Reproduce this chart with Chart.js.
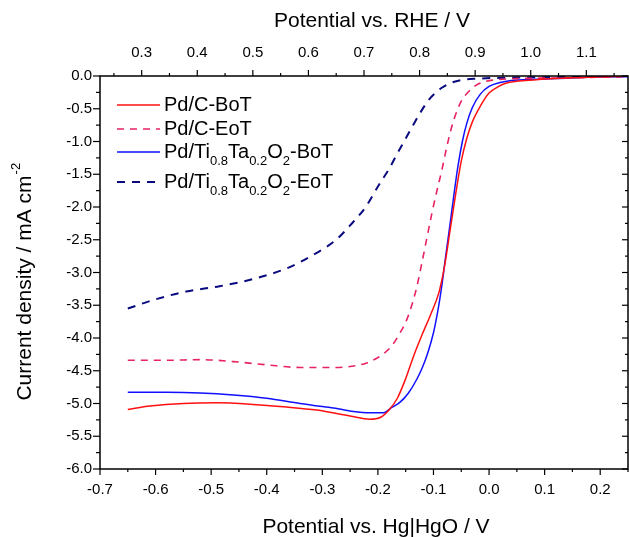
<!DOCTYPE html>
<html lang="en">
<head>
<meta charset="utf-8" />
<title>ORR polarisation curves</title>
<style>
  html, body { margin: 0; padding: 0; background: #fff; }
  #wrap { width: 629px; height: 537px; }
</style>
</head>
<body>
<div id="wrap"><canvas id="myChart" width="629" height="537"></canvas></div>
<script src="https://cdn.jsdelivr.net/npm/chart.js/dist/chart.umd.min.js"></script>
<script>
// values (potential vs Hg|HgO in V, current density in mA cm-2)
const pdcBotX = [-0.65, -0.61, -0.55, -0.49, -0.43, -0.37, -0.31, -0.25, -0.215, -0.195, -0.18, -0.165, -0.15, -0.135, -0.12, -0.105, -0.09, -0.08, -0.07, -0.06, -0.05, -0.04, -0.03, -0.015, 0.0, 0.015, 0.03, 0.05, 0.08, 0.12, 0.18, 0.25];
const pdcBotY = [-5.09, -5.04, -5.00, -4.99, -5.01, -5.05, -5.10, -5.19, -5.24, -5.21, -5.10, -4.92, -4.62, -4.26, -3.94, -3.64, -3.30, -2.90, -2.35, -1.80, -1.30, -0.95, -0.70, -0.45, -0.26, -0.17, -0.11, -0.08, -0.06, -0.04, -0.02, 0.0];

const pdcEotX = [-0.65, -0.58, -0.52, -0.46, -0.40, -0.34, -0.28, -0.22, -0.19, -0.175, -0.16, -0.148, -0.138, -0.13, -0.121, -0.112, -0.103, -0.094, -0.085, -0.076, -0.067, -0.058, -0.049, -0.037, -0.025, -0.01, 0.01, 0.05, 0.12, 0.25];
const pdcEotY = [-4.34, -4.34, -4.33, -4.36, -4.41, -4.45, -4.45, -4.38, -4.24, -4.12, -3.92, -3.72, -3.47, -3.22, -2.86, -2.48, -2.10, -1.76, -1.44, -1.08, -0.77, -0.54, -0.37, -0.24, -0.15, -0.09, -0.06, -0.04, -0.03, -0.01];

const ttoBotX = [-0.65, -0.58, -0.52, -0.46, -0.40, -0.34, -0.28, -0.22, -0.19, -0.175, -0.16, -0.145, -0.13, -0.12, -0.11, -0.10, -0.092, -0.085, -0.078, -0.07, -0.063, -0.056, -0.048, -0.04, -0.03, -0.016, 0.0, 0.02, 0.04, 0.08, 0.12, 0.18, 0.25];
const ttoBotY = [-4.83, -4.83, -4.84, -4.87, -4.92, -5.00, -5.07, -5.14, -5.14, -5.06, -4.98, -4.84, -4.63, -4.45, -4.22, -3.92, -3.58, -3.20, -2.75, -2.25, -1.80, -1.38, -1.00, -0.72, -0.48, -0.28, -0.16, -0.10, -0.07, -0.05, -0.04, -0.02, -0.01];

const ttoEotX = [-0.65, -0.604, -0.545, -0.485, -0.425, -0.365, -0.306, -0.275, -0.25, -0.222, -0.198, -0.18, -0.168, -0.153, -0.138, -0.123, -0.109, -0.097, -0.085, -0.07, -0.049, -0.02, 0.011, 0.08, 0.25];
const ttoEotY = [-3.55, -3.42, -3.29, -3.21, -3.10, -2.94, -2.68, -2.50, -2.28, -2.00, -1.66, -1.42, -1.23, -1.00, -0.77, -0.55, -0.37, -0.26, -0.18, -0.11, -0.06, -0.04, -0.03, -0.02, 0.0];

const xTicks = [-0.7, -0.6, -0.5, -0.4, -0.3, -0.2, -0.1, 0.0, 0.1, 0.2];
const rheTicks = [0.3, 0.4, 0.5, 0.6, 0.7, 0.8, 0.9, 1.0, 1.1];
const yTicks = [0.0, -0.5, -1.0, -1.5, -2.0, -2.5, -3.0, -3.5, -4.0, -4.5, -5.0, -5.5, -6.0];
const rheOffset = 0.925; // E(RHE) - E(Hg|HgO)

// legend labels, [text, isSubscript]
const legendParts = [
  [["Pd/C-BoT", 0]],
  [["Pd/C-EoT", 0]],
  [["Pd/Ti", 0], ["0.8", 1], ["Ta", 0], ["0.2", 1], ["O", 0], ["2", 1], ["-BoT", 0]],
  [["Pd/Ti", 0], ["0.8", 1], ["Ta", 0], ["0.2", 1], ["O", 0], ["2", 1], ["-EoT", 0]]
];

const FONT = "'Liberation Sans', Arial, sans-serif";

function toPoints(xs, ys) {
  return xs.map((x, i) => ({ x: x, y: ys[i] }));
}

const series = [
  { label: "Pd/C-BoT", data: toPoints(pdcBotX, pdcBotY), color: "#ff1010", dash: [], width: 1.5 },
  { label: "Pd/C-EoT", data: toPoints(pdcEotX, pdcEotY), color: "#e8235f", dash: [7, 6], width: 1.6 },
  { label: "Pd/Ti0.8Ta0.2O2-BoT", data: toPoints(ttoBotX, ttoBotY), color: "#1010ff", dash: [], width: 1.5 },
  { label: "Pd/Ti0.8Ta0.2O2-EoT", data: toPoints(ttoEotX, ttoEotY), color: "#0a0a80", dash: [8, 7], width: 2 }
];

// draws frame, ticks, labels, titles and legend
const axesPlugin = {
  id: "axesPlugin",
  afterDraw(chart) {
    const ctx = chart.ctx;
    const a = chart.chartArea;
    const xs = chart.scales.x, ys = chart.scales.y, x2 = chart.scales.x2;
    ctx.save();
    ctx.strokeStyle = "#000";
    ctx.fillStyle = "#000";
    ctx.lineWidth = 1.5;
    ctx.setLineDash([]);
    ctx.strokeRect(a.left, a.top, a.right - a.left, a.bottom - a.top);

    ctx.lineWidth = 1.2;
    // bottom axis ticks
    for (let k = -14; k <= 5; k++) {
      const v = k * 0.05;
      const px = xs.getPixelForValue(v);
      const len = (k % 2 === 0) ? 6 : 3;
      ctx.beginPath(); ctx.moveTo(px, a.bottom); ctx.lineTo(px, a.bottom + len); ctx.stroke();
    }
    // top axis ticks (RHE)
    for (let k = 5; k <= 23; k++) {
      const v = k * 0.05;
      const px = x2.getPixelForValue(v);
      if (px < a.left - 0.5 || px > a.right + 0.5) continue;
      const len = (k % 2 === 0) ? 6 : 3;
      ctx.beginPath(); ctx.moveTo(px, a.top); ctx.lineTo(px, a.top - len); ctx.stroke();
    }
    // left and right axis ticks
    for (let k = 0; k <= 24; k++) {
      const v = -k * 0.25;
      const py = ys.getPixelForValue(v);
      const len = (k % 2 === 0) ? 7 : 4;
      ctx.beginPath(); ctx.moveTo(a.left, py); ctx.lineTo(a.left - len, py); ctx.stroke();
      ctx.beginPath(); ctx.moveTo(a.right, py); ctx.lineTo(a.right - len + 1, py); ctx.stroke();
    }

    // tick labels
    ctx.font = "15px " + FONT;
    ctx.textAlign = "center";
    ctx.textBaseline = "middle";
    xTicks.forEach(v => {
      ctx.fillText(v.toFixed(1), xs.getPixelForValue(v), a.bottom + 21);
    });
    rheTicks.forEach(v => {
      ctx.fillText(v.toFixed(1), x2.getPixelForValue(v), a.top - 23);
    });
    ctx.textAlign = "right";
    yTicks.forEach(v => {
      ctx.fillText(v.toFixed(1), a.left - 8, ys.getPixelForValue(v));
    });

    // axis titles
    ctx.font = "21px " + FONT;
    ctx.textAlign = "center";
    ctx.fillText("Potential vs. RHE / V", 372, 21);
    ctx.fillText("Potential vs. Hg|HgO / V", 376, 527);

    ctx.save();
    ctx.translate(25, 282);
    ctx.rotate(-Math.PI / 2);
    const main = "Current density / mA cm";
    const w = ctx.measureText(main).width;
    ctx.textAlign = "left";
    ctx.fillText(main, -w / 2 - 6, 0);
    ctx.font = "13px " + FONT;
    ctx.fillText("-2", w / 2 - 5, -9);
    ctx.restore();

    // legend
    const rows = [105, 129, 152, 182];
    series.forEach((s, i) => {
      const y = rows[i];
      ctx.strokeStyle = s.color;
      ctx.lineWidth = s.width;
      ctx.setLineDash(s.dash);
      ctx.beginPath(); ctx.moveTo(117, y); ctx.lineTo(160, y); ctx.stroke();
      ctx.setLineDash([]);
      let tx = 164;
      legendParts[i].forEach(p => {
        ctx.textAlign = "left";
        if (p[1]) {
          ctx.font = "13px " + FONT;
          ctx.fillText(p[0], tx, y + 9);
        } else {
          ctx.font = "20px " + FONT;
          ctx.fillText(p[0], tx, y);
        }
        tx += ctx.measureText(p[0]).width;
      });
    });
    ctx.restore();
  }
};

const data = {
  datasets: series.map(s => ({
    label: s.label,
    data: s.data,
    borderColor: s.color,
    borderWidth: s.width,
    borderDash: s.dash,
    pointRadius: 0,
    fill: false,
    cubicInterpolationMode: "monotone"
  }))
};

const config = {
  type: "line",
  data,
  options: {
    responsive: false,
    animation: false,
    events: [],
    layout: { padding: { left: 100, right: 1, top: 76, bottom: 68 } },
    plugins: { legend: { display: false }, tooltip: { enabled: false } },
    scales: {
      x: { type: "linear", min: -0.7, max: 0.25, display: false },
      x2: { type: "linear", position: "top", min: -0.7 + rheOffset, max: 0.25 + rheOffset, display: false },
      y: { type: "linear", min: -6, max: 0, display: false }
    }
  },
  plugins: [axesPlugin]
};

const myChart = new Chart(document.getElementById("myChart"), config);
</script>
</body>
</html>
